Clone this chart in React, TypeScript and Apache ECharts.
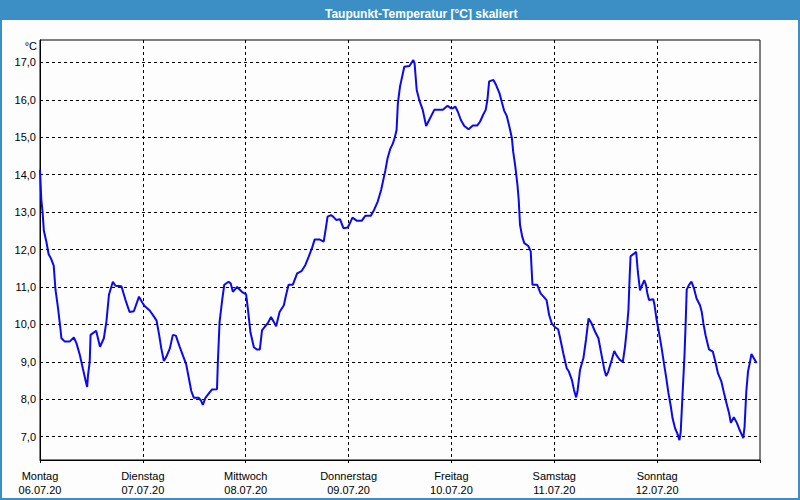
import { useEffect, useRef } from "react";
import * as echarts from "echarts";

const chartTitle = "Taupunkt-Temperatur [°C] skaliert";
const unitLabel = "°C";
const dayNames = ["Montag", "Dienstag", "Mittwoch", "Donnerstag", "Freitag", "Samstag", "Sonntag"];
const dayDates = ["06.07.20", "07.07.20", "08.07.20", "09.07.20", "10.07.20", "11.07.20", "12.07.20"];
const yTicks = [7, 8, 9, 10, 11, 12, 13, 14, 15, 16, 17];

// hours since Monday 00:00
const hours = [
  0, 0.3, 0.6, 0.9, 1.5, 2.0, 2.6, 3.2, 3.6, 4.2, 4.7, 5.0, 5.8, 6.9, 7.9, 8.5, 9.3, 10.0, 10.7, 11.0,
  11.2, 11.6, 11.8, 13.1, 14.0, 14.9, 15.5, 16.1, 17.0, 17.6, 19.0, 19.9, 20.9, 21.9, 23.1, 23.9, 24.4, 25.6, 26.4, 27.2,
  27.8, 28.3, 28.9, 29.5, 30.3, 31.0, 31.7, 32.6, 33.4, 34.1, 34.7, 35.3, 35.9, 37.0, 37.6, 38.0, 38.6, 39.4, 40.1, 41.3,
  41.5, 41.9, 42.5, 43.0, 44.0, 44.5, 45.0, 46.0, 47.1, 48.1, 48.5, 49.1, 49.9, 50.6, 51.3, 51.8, 52.4, 53.2, 53.9, 54.5,
  55.1, 55.9, 56.9, 57.4, 58.0, 59.0, 59.6, 60.0, 61.0, 61.9, 62.7, 63.5, 64.1, 65.2, 66.2, 66.7, 67.1, 67.9, 68.4, 69.1,
  70.0, 70.8, 71.8, 72.3, 72.9, 73.9, 75.1, 75.9, 77.2, 78.0, 78.8, 79.6, 80.1, 80.6, 81.1, 81.7, 82.3, 82.8, 83.2, 83.5,
  84.0, 85.0, 86.2, 87.1, 87.4, 87.9, 88.5, 89.3, 90.1, 90.8, 92.0, 94.0, 95.1, 95.9, 96.3, 96.9, 97.5, 98.2, 99.0, 100.0,
  101.0, 102.0, 102.7, 103.4, 104.0, 104.4, 104.8, 105.8, 106.4, 107.2, 107.7, 108.3, 108.9, 109.5, 110.1, 110.4, 110.9, 111.4, 111.7, 112.0,
  112.5, 113.0, 113.9, 114.5, 114.9, 116.0, 116.8, 117.6, 118.2, 118.8, 119.4, 120.2, 120.9, 121.3, 122.1, 122.9, 123.4, 124.1, 124.6, 125.1,
  125.4, 126.0, 126.8, 127.4, 128.0, 128.7, 129.5, 130.3, 131.1, 131.7, 132.1, 132.6, 133.4, 134.0, 134.5, 135.3, 136.0, 136.5, 136.9, 137.3,
  137.6, 137.8, 138.6, 139.1, 139.5, 140.0, 140.5, 141.0, 141.4, 141.7, 142.1, 143.1, 143.4, 143.9, 144.4, 145.0, 145.6, 146.1, 146.6, 147.2,
  147.6, 148.2, 148.7, 149.2, 149.5, 149.9, 150.4, 150.7, 150.9, 151.4, 152.0, 152.6, 153.2, 154.0, 154.4, 154.8, 155.3, 156.1, 157.0, 157.7,
  158.2, 159.0, 159.6, 160.2, 160.8, 161.2, 161.9, 162.6, 163.1, 163.6, 164.1, 164.4, 164.8, 165.2, 165.6, 166.0, 166.6, 167.2
];

const dewPoint = [
  14.13, 13.34, 13.0, 12.5, 12.2, 11.88, 11.75, 11.57, 10.94, 10.44, 9.95, 9.63, 9.54, 9.54, 9.65, 9.5, 9.18, 8.82, 8.47, 8.33,
  8.64, 9.0, 9.72, 9.83, 9.4, 9.63, 10.08, 10.8, 11.14, 11.03, 11.02, 10.67, 10.33, 10.35, 10.74, 10.58, 10.49, 10.37, 10.24, 10.1,
  9.72, 9.36, 9.02, 9.14, 9.36, 9.72, 9.7, 9.4, 9.15, 8.94, 8.58, 8.22, 8.04, 8.04, 7.96, 7.85, 8.04, 8.16, 8.26, 8.27,
  8.99, 10.06, 10.64, 11.06, 11.14, 11.09, 10.87, 11.0, 10.87, 10.8, 10.42, 9.79, 9.39, 9.33, 9.33, 9.84, 9.93, 10.04, 10.2, 10.08,
  9.95, 10.33, 10.51, 10.78, 11.06, 11.06, 11.24, 11.36, 11.42, 11.58, 11.81, 12.05, 12.27, 12.27, 12.21, 12.57, 12.88, 12.92, 12.88, 12.79,
  12.81, 12.57, 12.59, 12.7, 12.85, 12.77, 12.77, 12.9, 12.9, 13.07, 13.28, 13.59, 13.86, 14.12, 14.44, 14.68, 14.82, 15.0, 15.19, 15.9,
  16.35, 16.88, 16.9, 17.06, 16.97, 16.26, 15.99, 15.73, 15.3, 15.46, 15.73, 15.73, 15.84, 15.77, 15.77, 15.82, 15.68, 15.46, 15.3, 15.21,
  15.31, 15.31, 15.42, 15.6, 15.73, 16.0, 16.49, 16.53, 16.4, 16.18, 15.96, 15.71, 15.57, 15.29, 14.98, 14.62, 14.22, 13.73, 13.33, 12.66,
  12.35, 12.17, 12.1, 11.95, 11.06, 11.06, 10.83, 10.73, 10.65, 10.25, 10.03, 9.92, 9.87, 9.67, 9.23, 8.83, 8.74, 8.52, 8.25, 8.05,
  8.2, 8.78, 9.1, 9.59, 10.16, 10.03, 9.81, 9.63, 9.14, 8.78, 8.62, 8.74, 9.05, 9.29, 9.18, 9.05, 9.0, 9.4, 9.85, 10.38,
  11.31, 11.82, 11.89, 11.94, 11.4, 10.91, 11.05, 11.18, 11.05, 10.84, 10.65, 10.67, 10.51, 10.11, 9.8, 9.4, 8.95, 8.59, 8.19, 7.8,
  7.49, 7.22, 7.09, 6.91, 7.13, 8.07, 9.22, 10.2, 10.93, 11.05, 11.14, 10.96, 10.69, 10.51, 10.34, 10.02, 9.71, 9.33, 9.27, 8.95,
  8.69, 8.47, 8.17, 7.89, 7.62, 7.37, 7.52, 7.37, 7.22, 7.09, 6.96, 7.27, 8.2, 8.74, 8.96, 9.21, 9.09, 8.97
];

const FONT = "Liberation Sans";

export default function App() {
  const ref = useRef<HTMLDivElement>(null);

  useEffect(() => {
    if (!ref.current) return;
    const chart = echarts.init(ref.current, null, { renderer: "svg" });
    const data = hours.map((h, i) => [h, dewPoint[i]]);

    chart.setOption({
      animation: false,
      backgroundColor: "#fcfdfc",
      textStyle: { fontFamily: FONT },
      title: {
        text: chartTitle,
        left: 320,
        top: 3,
        z: 10,
        textStyle: { color: "#ffffff", fontSize: 12, fontWeight: "bold", fontFamily: FONT }
      },
      graphic: [
        { type: "rect", z: 1, shape: { x: 0, y: 0, width: 800, height: 20 }, style: { fill: "#3c8fc4" } },
        { type: "rect", z: 1, shape: { x: 0, y: 0, width: 2, height: 500 }, style: { fill: "#3c8fc4" } },
        { type: "rect", z: 1, shape: { x: 798, y: 0, width: 2, height: 500 }, style: { fill: "#3c8fc4" } },
        { type: "rect", z: 1, shape: { x: 0, y: 498, width: 800, height: 2 }, style: { fill: "#3c8fc4" } },
        {
          type: "text",
          z: 5,
          x: 37,
          y: 46,
          style: { text: unitLabel, fill: "#000", font: `11px "${FONT}"`, textAlign: "right", textVerticalAlign: "middle" }
        }
      ],
      grid: {
        left: 40,
        right: 40,
        top: 40,
        bottom: 40,
        show: true,
        borderColor: "#000",
        borderWidth: 1,
        backgroundColor: "#fcfdfc"
      },
      xAxis: {
        type: "value",
        min: 0,
        max: 168,
        interval: 24,
        axisLine: { show: true, lineStyle: { color: "#000", width: 1 } },
        axisTick: { show: true, length: 3, lineStyle: { color: "#000", type: [3, 3] } },
        splitLine: { show: true, showMinLine: false, showMaxLine: false, lineStyle: { color: "#000", width: 1, type: [3, 3] } },
        axisLabel: {
          color: "#000",
          fontSize: 11,
          fontFamily: FONT,
          lineHeight: 14,
          margin: 9,
          formatter: (v: number) => {
            const i = Math.round(v / 24);
            return i < dayNames.length ? `${dayNames[i]}\n${dayDates[i]}` : "";
          }
        }
      },
      yAxis: {
        type: "value",
        min: 6.378,
        max: 17.596,
        axisLine: { show: true, lineStyle: { color: "#000", width: 1 } },
        axisTick: { show: false, customValues: yTicks },
        axisLabel: {
          customValues: yTicks,
          color: "#000",
          fontSize: 11,
          fontFamily: FONT,
          margin: 4,
          formatter: (v: number) => v.toFixed(1).replace(".", ",")
        },
        splitLine: { show: true, lineStyle: { color: "#000", width: 1, type: [3, 3] } }
      },
      series: [
        {
          type: "line",
          data,
          symbol: "none",
          showSymbol: false,
          clip: true,
          lineStyle: { color: "#0a0aec", width: 2 }
        }
      ]
    });

    return () => chart.dispose();
  }, []);

  return <div ref={ref} style={{ position: "absolute", left: 0, top: 0, width: 800, height: 500 }} />;
}
